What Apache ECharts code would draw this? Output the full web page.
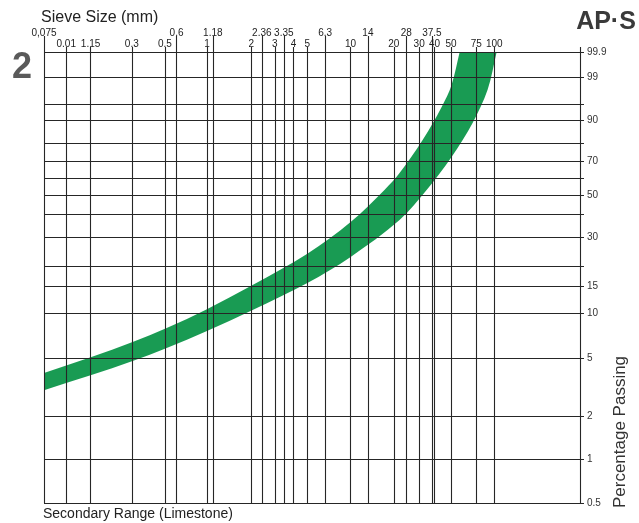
<!DOCTYPE html>
<html>
<head>
<meta charset="utf-8">
<script src="https://cdn.jsdelivr.net/npm/echarts@6/dist/echarts.min.js"></script>
<style>
  html, body { margin: 0; padding: 0; background: #fff; }
  #chart { width: 639px; height: 523px; }
</style>
</head>
<body>
<div id="chart"></div>
<script>
// Sieve sizes (mm) where the vertical rules sit, and the text printed over each rule
const sieveSizes = [0.0735, 0.105, 0.155, 0.3, 0.51, 0.615, 1, 1.1, 2.04, 2.41, 2.97, 3.43, 4, 5, 6.65, 10, 13.2, 20, 24.4, 30, 36.8, 38.4, 50, 75, 100];
const sieveLabels = ['0,075', '0.01', '1.15', '0.3', '0.5', '0.6', '1', '1.18', '2', '2.36', '3', '3.35', '4', '5', '6.3', '10', '14', '20', '28', '30', '37.5', '40', '50', '75', '100'];
const sieveUpperRow = [true, false, false, false, false, true, false, true, false, true, false, true, false, false, true, false, true, false, true, false, true, false, false, false, false];

// Percentage-passing rules and their printed values
const passingLevels = [0.5, 1, 2, 5, 10, 15, 20, 30, 40, 50, 60, 70, 80, 90, 95, 99, 99.9];
const passingLabels = ['0.5', '1', '2', '5', '10', '15', '', '30', '', '50', '', '70', '', '90', '', '99', '99.9'];

// Grading envelope: finer (upper) limit and coarser (lower) limit
const upperSize = [0.0735, 0.157, 0.304, 0.525, 1, 2.08, 5, 10, 17.2, 21.9, 31.7, 43, 50.4, 57.4];
const upperPct  = [3.95, 5.07, 6.4, 7.95, 10.6, 15.2, 23.8, 36.4, 53.1, 62.9, 81.5, 94.3, 98.3, 99.9];
const lowerSize = [0.0735, 0.157, 0.304, 0.525, 1, 2.08, 5, 10, 21.9, 33.8, 50.4, 70.6, 89.8, 103.8];
const lowerPct  = [3.01, 3.82, 4.76, 5.83, 7.59, 10.46, 15.66, 22.8, 37.3, 53.0, 72.3, 89.1, 97.7, 99.9];

// Rosin-Rammler ordinate: -ln(1 - P), shown on a logarithmic axis
const rr = p => -Math.log(1 - p / 100);

const X_MIN = 0.0735;
const X_MAX_PLOT = 394.7;   // right border of the diagram
const X_MAX_RULE = 421;     // rules overhang the border a little
const Y_MIN = rr(0.5);
const Y_MAX_PLOT = rr(99.9);
const Y_TOP_LONG = 8.925;   // top of the long sieve rules (upper label row)
const Y_TOP_SHORT = 7.49;   // top of the short sieve rules (lower label row)

const FONT = '"Liberation Sans", Arial, Helvetica, sans-serif';
const INK = '#262626';
const GREEN = '#0b9548';

// Smooth curve through screen points (chord-length Hermite), as SVG path commands
function curveThrough(pts) {
  const n = pts.length;
  const t = [0];
  for (let i = 1; i < n; i++) {
    t.push(t[i - 1] + Math.hypot(pts[i][0] - pts[i - 1][0], pts[i][1] - pts[i - 1][1]));
  }
  const m = pts.map((p, i) => {
    const a = pts[Math.max(i - 1, 0)], b = pts[Math.min(i + 1, n - 1)];
    const dt = t[Math.min(i + 1, n - 1)] - t[Math.max(i - 1, 0)];
    return [(b[0] - a[0]) / dt, (b[1] - a[1]) / dt];
  });
  const f = v => v.toFixed(2);
  let d = '';
  for (let i = 0; i < n - 1; i++) {
    const h = t[i + 1] - t[i];
    const c1 = [pts[i][0] + m[i][0] * h / 3, pts[i][1] + m[i][1] * h / 3];
    const c2 = [pts[i + 1][0] - m[i + 1][0] * h / 3, pts[i + 1][1] - m[i + 1][1] * h / 3];
    d += ' C' + f(c1[0]) + ',' + f(c1[1]) + ' ' + f(c2[0]) + ',' + f(c2[1]) + ' ' + f(pts[i + 1][0]) + ',' + f(pts[i + 1][1]);
  }
  return d;
}

const verticalRules = sieveSizes.map((s, i) => [
  { coord: [s, Y_MIN], label: { show: true, formatter: sieveLabels[i] } },
  { coord: [s, sieveUpperRow[i] ? Y_TOP_LONG : Y_TOP_SHORT] }
]);
verticalRules.push([
  { coord: [X_MAX_PLOT, Y_MIN], label: { show: false } },
  { coord: [X_MAX_PLOT, Y_TOP_SHORT] }
]);

const horizontalRules = passingLevels.map((p, i) => [
  { coord: [X_MIN, rr(p)], label: { show: passingLabels[i] !== '', formatter: passingLabels[i] } },
  { coord: [X_MAX_RULE, rr(p)] }
]);

const chart = echarts.init(document.getElementById('chart'), null, { renderer: 'canvas' });

chart.setOption({
  animation: false,
  backgroundColor: '#fff',
  grid: [
    { left: 44, right: 639 - 44 - 540, top: 36, bottom: 20 },
    { left: 44, right: 639 - 44 - 536, top: 52, bottom: 20 }
  ],
  xAxis: [
    { type: 'log', logBase: 10, gridIndex: 0, min: X_MIN, max: X_MAX_RULE, show: false },
    { type: 'log', logBase: 10, gridIndex: 1, min: X_MIN, max: X_MAX_PLOT, show: false }
  ],
  yAxis: [
    { type: 'log', logBase: 10, gridIndex: 0, min: Y_MIN, max: Y_TOP_LONG, show: false },
    { type: 'log', logBase: 10, gridIndex: 1, min: Y_MIN, max: Y_MAX_PLOT, show: false }
  ],
  series: [
    {
      name: 'rules',
      type: 'line',
      xAxisIndex: 0,
      yAxisIndex: 0,
      data: [],
      silent: true,
      z: 2,
      markLine: {
        silent: true,
        symbol: ['none', 'none'],
        animation: false,
        lineStyle: { type: 'solid', color: INK, width: 1.1, opacity: 1 },
        emphasis: { disabled: true },
        label: {
          position: 'end',
          distance: -2,
          color: '#222',
          fontSize: 10,
          fontFamily: FONT
        },
        data: verticalRules
      }
    },
    {
      name: 'levels',
      type: 'line',
      xAxisIndex: 0,
      yAxisIndex: 0,
      data: [],
      silent: true,
      z: 2,
      markLine: {
        silent: true,
        symbol: ['none', 'none'],
        animation: false,
        lineStyle: { type: 'solid', color: INK, width: 1.1, opacity: 1 },
        emphasis: { disabled: true },
        label: {
          position: 'end',
          distance: 3,
          color: '#333',
          fontSize: 10,
          fontFamily: FONT
        },
        data: horizontalRules
      }
    },
    {
      name: 'Secondary Range (Limestone)',
      type: 'custom',
      xAxisIndex: 1,
      yAxisIndex: 1,
      clip: true,
      silent: true,
      z: 3,
      data: upperSize.map((s, i) => [s, rr(upperPct[i])]),
      renderItem: function (params, api) {
        if (params.dataIndex !== 0) return null;
        const up = upperSize.map((s, i) => api.coord([s, rr(upperPct[i])]));
        const lo = lowerSize.map((s, i) => api.coord([s, rr(lowerPct[i])])).reverse();
        const d = 'M' + up[0][0].toFixed(2) + ',' + up[0][1].toFixed(2) +
          curveThrough(up) +
          ' L' + lo[0][0].toFixed(2) + ',' + lo[0][1].toFixed(2) +
          curveThrough(lo) + ' Z';
        return {
          type: 'path',
          shape: { pathData: d },
          style: { fill: GREEN, opacity: 0.94, stroke: null }
        };
      }
    }
  ],
  graphic: [
    { type: 'text', x: 41, y: 17.5, style: { text: 'Sieve Size (mm)', font: '16px ' + FONT, fill: '#222', align: 'left', verticalAlign: 'middle' } },
    { type: 'text', x: 43, y: 514, style: { text: 'Secondary Range (Limestone)', font: '14px ' + FONT, fill: '#222', align: 'left', verticalAlign: 'middle' } },
    { type: 'text', x: 620, y: 432, rotation: Math.PI / 2, style: { text: 'Percentage Passing', font: '17px ' + FONT, fill: '#333', align: 'center', verticalAlign: 'middle' } },
    { type: 'text', x: 22, y: 68, style: { text: '2', font: 'bold 36px ' + FONT, fill: '#5a5a5a', align: 'center', verticalAlign: 'middle' } },
    { type: 'text', x: 606, y: 22, style: { text: 'AP·S', font: 'bold 25px ' + FONT, fill: '#3a3a3a', align: 'center', verticalAlign: 'middle' } }
  ]
});
</script>
</body>
</html>
